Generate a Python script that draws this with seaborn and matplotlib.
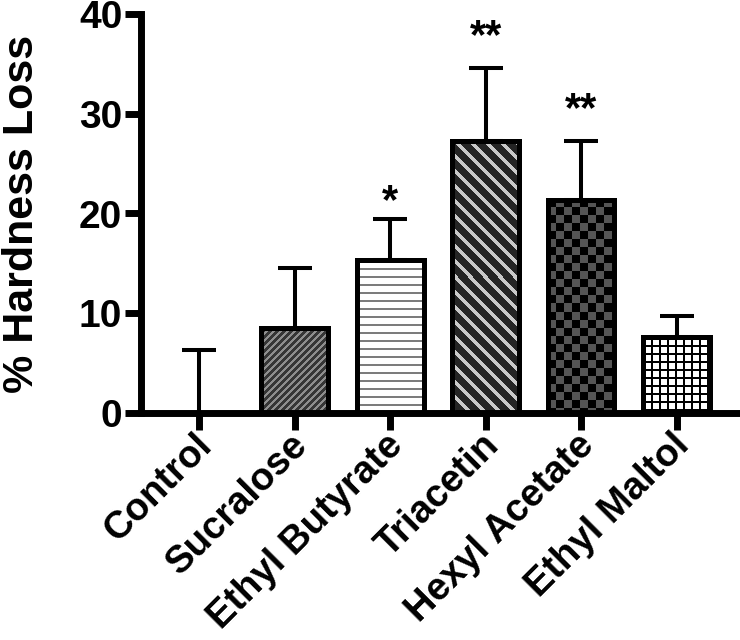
import numpy as np
import pandas as pd
import matplotlib
matplotlib.use("Agg")
import matplotlib.pyplot as plt
import matplotlib.colors as mcolors
import matplotlib.transforms as mtransforms
import seaborn as sns

categories = ["Control", "Sucralose", "Ethyl Butyrate", "Triacetin", "Hexyl Acetate", "Ethyl Maltol"]
means = [0.0, 8.5, 15.3, 27.3, 21.4, 7.6]
err_up = [6.3, 6.0, 4.1, 7.3, 5.9, 2.1]
stars = ["", "", "*", "**", "**", ""]

# texture style per bar: (kind, background, line colour, period px, line px)
textures = [
    ("none", "white", "white", 1, 0),
    ("diag_up", "#363636", "#8e8e8e", 7, 3),
    ("horiz", "white", "#7c7c7c", 8, 2),
    ("diag_down", "#242424", "#c8c8c8", 15, 5),
    ("checker", "#000000", "#555555", 8, 8),
    ("grid", "white", "#000000", 8, 2),
]

sns.set_theme(style="ticks")
plt.rcParams["font.family"] = ["Liberation Sans", "DejaVu Sans"]
plt.rcParams["font.weight"] = "bold"
for key in ["text.color", "axes.labelcolor", "xtick.color", "ytick.color", "axes.edgecolor"]:
    plt.rcParams[key] = "black"

df = pd.DataFrame({"cat": categories, "val": means})

fig = plt.figure(figsize=(7.4, 6.4), dpi=100)
ax = fig.add_axes([141 / 740, (640 - 413) / 640, (740 - 141) / 740, (413 - 14) / 640])

sns.barplot(data=df, x="cat", y="val", order=categories, ax=ax, errorbar=None,
            width=0.7, color="white", edgecolor="black", linewidth=3.6, saturation=1)

ax.set_ylim(0, 40)
ax.set_xlim(-0.61, 5.665)


def make_texture(kind, W, H, period, lw):
    r = np.arange(H)[:, None]
    c = np.arange(W)[None, :]
    if kind == "diag_up":
        m = ((c + r) % period) < lw
    elif kind == "diag_down":
        m = ((c - r) % period) < lw
    elif kind == "horiz":
        m = np.broadcast_to((r % period) < lw, (H, W))
    elif kind == "checker":
        m = ((r // period + c // period) % 2) == 1
    elif kind == "grid":
        m = ((r % period) < lw) | ((c % period) < lw)
    else:
        m = np.zeros((H, W), dtype=bool)
    return m.astype(float)


for i, p in enumerate(ax.patches):
    p.set_zorder(3)
    kind, bg, fg, period, lw = textures[i]
    h = p.get_height()
    if kind == "none" or h <= 0:
        continue
    x0 = p.get_x()
    w = p.get_width()
    (px0, py0), (px1, py1) = ax.transData.transform([(x0, 0), (x0 + w, h)])
    W = max(int(round(px1 - px0)), 1)
    H = max(int(round(py1 - py0)), 1)
    tex = make_texture(kind, W, H, period, lw)
    im = ax.imshow(tex, cmap=mcolors.ListedColormap([bg, fg]), vmin=0, vmax=1,
                   extent=(x0, x0 + w, 0, h), aspect="auto", zorder=2.5,
                   interpolation="nearest", origin="upper")
    im.set_clip_path(p)
    p.set_facecolor("none")

ax.set_ylim(0, 40)
ax.set_xlim(-0.61, 5.665)

xs = np.arange(len(categories))
lower = np.zeros(len(categories))
ax.errorbar(xs, means, yerr=[lower, err_up], fmt="none", ecolor="black",
            elinewidth=2.9, capsize=12.5, capthick=2.9, zorder=1)

for i, s in enumerate(stars):
    if s:
        off = 4.5 if len(s) == 1 else 14
        ax.annotate(s, (xs[i], means[i] + err_up[i]), xytext=(0, off),
                    textcoords="offset points", ha="center", va="baseline",
                    fontsize=30, fontweight="bold", color="black")

ax.set_yticks([0, 10, 20, 30, 40])
ax.set_xlabel("")
ax.set_ylabel("% Hardness Loss", fontsize=31, fontweight="bold")
ax.yaxis.set_label_coords(-0.165, 0.5)
sns.despine(ax=ax)
for sp in ["left", "bottom"]:
    ax.spines[sp].set_linewidth(5)
    ax.spines[sp].set_color("black")
ax.tick_params(axis="y", length=11.5, width=5, labelsize=28, pad=2, color="black")
ax.tick_params(axis="x", length=12, width=5, labelsize=27.5, pad=1, color="black")
for lab in ax.get_yticklabels():
    lab.set_fontweight("bold")
ax.set_xticks(xs)
ax.set_xticklabels(categories, rotation=45, ha="right", rotation_mode="anchor",
                   fontweight="bold")
shift = mtransforms.ScaledTranslation(-5 / 100, 4 / 100, fig.dpi_scale_trans)
for lab in ax.get_xticklabels():
    lab.set_transform(lab.get_transform() + shift)

fig.savefig("out.png", dpi=100)
